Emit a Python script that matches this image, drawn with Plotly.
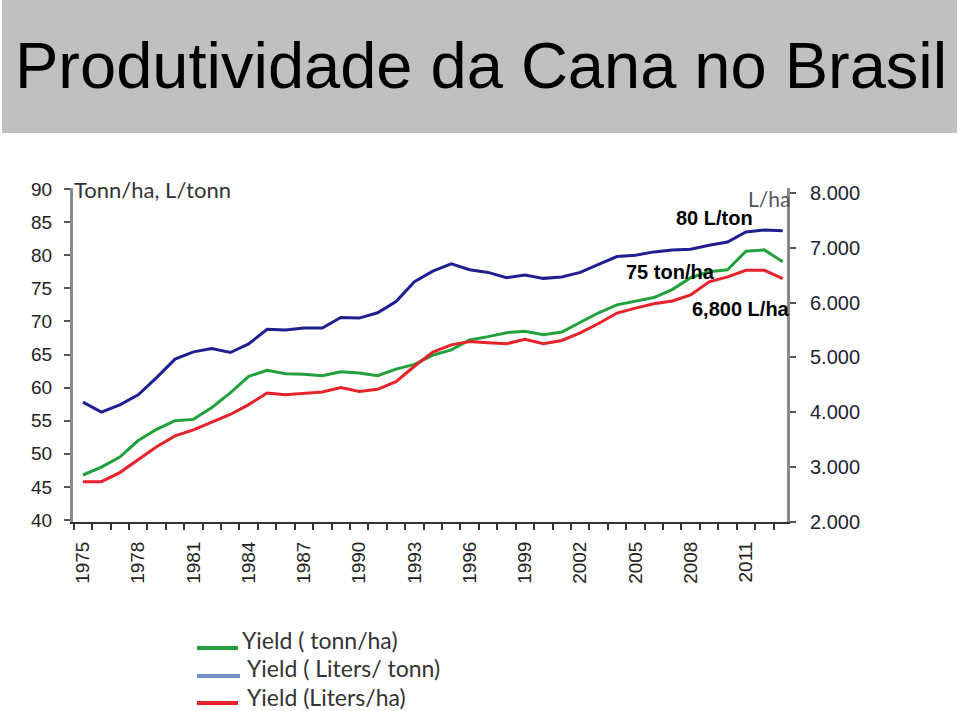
import plotly.graph_objects as go

# ---------------- data ----------------
years = list(range(1975, 2014))

yield_tonn_ha = [46.8, 48.0, 49.5, 52.0, 53.7, 55.0, 55.2, 57.0, 59.2, 61.7,
                 62.6, 62.1, 62.0, 61.8, 62.4, 62.2, 61.8, 62.8, 63.5, 64.9,
                 65.7, 67.2, 67.7, 68.3, 68.5, 68.0, 68.4, 69.8, 71.3, 72.5,
                 73.1, 73.6, 74.8, 76.6, 77.5, 77.8, 80.6, 80.8, 79.0]

yield_liters_tonn = [57.8, 56.3, 57.4, 58.9, 61.5, 64.3, 65.4, 65.9, 65.3, 66.6,
                     68.8, 68.7, 69.0, 69.0, 70.6, 70.5, 71.3, 73.0, 76.0, 77.6,
                     78.7, 77.8, 77.4, 76.6, 77.0, 76.5, 76.7, 77.4, 78.6, 79.8,
                     80.0, 80.5, 80.8, 80.9, 81.5, 82.0, 83.5, 83.8, 83.7]

yield_liters_ha = [2735, 2735, 2900, 3130, 3370, 3570, 3680, 3820, 3960, 4140,
                   4350, 4320, 4350, 4370, 4450, 4380, 4420, 4560, 4840, 5100,
                   5230, 5290, 5270, 5250, 5330, 5250, 5310, 5450, 5620, 5810,
                   5900, 5980, 6030, 6140, 6380, 6470, 6590, 6590, 6440]

x_tick_years = years[::3]
left_ticks = [40, 45, 50, 55, 60, 65, 70, 75, 80, 85, 90]
right_ticks = [2000, 3000, 4000, 5000, 6000, 7000, 8000]
right_ticktext = ["2.000", "3.000", "4.000", "5.000", "6.000", "7.000", "8.000"]

legend_labels = ["Yield ( tonn/ha)", "Yield ( Liters/ tonn)", "Yield (Liters/ha)"]
notes = ["80 L/ton", "75 ton/ha", "6,800 L/ha"]
title_text = "Produtividade da Cana no Brasil"

# ---------------- styling ----------------
GREEN = "#22a03c"
NAVY = "#1f1f92"
RED = "#e6222b"
LEG_BLUE = "#7092c8"
AXIS_GRAY = "#8a8a8a"
ARIAL = "Liberation Sans, Arial, sans-serif"
CALIBRI = "Lato, Carlito, Calibri, sans-serif"

W, H = 960, 711
L, R, T, B = 73, 787, 188, 522


def px(x):
    return (x - L) / (R - L)


def py(y):
    return (B - y) / (B - T)


fig = go.Figure()
fig.add_trace(go.Scatter(x=years, y=yield_liters_tonn, mode="lines",
                         line=dict(color=NAVY, width=3), yaxis="y",
                         showlegend=False, name=legend_labels[1]))
fig.add_trace(go.Scatter(x=years, y=yield_tonn_ha, mode="lines",
                         line=dict(color=GREEN, width=3), yaxis="y",
                         showlegend=False, name=legend_labels[0]))
fig.add_trace(go.Scatter(x=years, y=yield_liters_ha, mode="lines",
                         line=dict(color=RED, width=3), yaxis="y2",
                         showlegend=False, name=legend_labels[2]))

shapes = [
    dict(type="rect", xref="paper", yref="paper", x0=px(2), x1=px(957),
         y0=py(133), y1=py(0), fillcolor="#c0c0c0", line=dict(width=0),
         layer="below"),
]
leg_colors = [GREEN, LEG_BLUE, RED]
leg_line_y = [648, 676, 703]
leg_line_x1 = [238, 240, 238]
for c, yy, x1 in zip(leg_colors, leg_line_y, leg_line_x1):
    shapes.append(dict(type="line", xref="paper", yref="paper",
                       x0=px(197), x1=px(x1), y0=py(yy), y1=py(yy),
                       line=dict(color=c, width=4)))

annotations = [
    dict(text=title_text, x=px(481), y=py(66), xref="paper", yref="paper",
         xanchor="center", yanchor="middle", showarrow=False,
         font=dict(family=ARIAL, size=65, color="#000000")),
    dict(text="Tonn/ha, L/tonn", x=px(72), y=py(189), xref="paper", yref="paper",
         xanchor="left", yanchor="middle", showarrow=False,
         font=dict(family=CALIBRI, size=22, color="#333333")),
    dict(text="L/ha", x=px(769), y=py(198), xref="paper", yref="paper",
         xanchor="center", yanchor="middle", showarrow=False,
         font=dict(family=CALIBRI, size=21, color="#555566")),
    dict(text="<b>%s</b>" % notes[0], x=px(714), y=py(218), xref="paper", yref="paper",
         xanchor="center", yanchor="middle", showarrow=False,
         font=dict(family=ARIAL, size=20, color="#000000")),
    dict(text="<b>%s</b>" % notes[1], x=px(670), y=py(272), xref="paper", yref="paper",
         xanchor="center", yanchor="middle", showarrow=False,
         font=dict(family=ARIAL, size=20, color="#000000")),
    dict(text="<b>%s</b>" % notes[2], x=px(741), y=py(309), xref="paper", yref="paper",
         xanchor="center", yanchor="middle", showarrow=False,
         font=dict(family=ARIAL, size=20, color="#000000")),
]
leg_text_x = [240, 245, 245]
leg_text_y = [640, 668, 697]
for lbl, xx, yy in zip(legend_labels, leg_text_x, leg_text_y):
    annotations.append(dict(text=lbl, x=px(xx), y=py(yy), xref="paper", yref="paper",
                            xanchor="left", yanchor="middle", showarrow=False,
                            font=dict(family=CALIBRI, size=23, color="#333333")))

fig.update_layout(
    width=W, height=H,
    margin=dict(l=L, r=W - R, t=T, b=H - B, pad=0),
    paper_bgcolor="white", plot_bgcolor="white",
    showlegend=False,
    xaxis=dict(range=[1974.46, 2013.23], tickmode="array", tickvals=x_tick_years,
               ticktext=[str(v) for v in x_tick_years], tickangle=-90,
               ticks="outside", ticklen=6, tickcolor="rgba(0,0,0,0)",
               ticklabelstandoff=4,
               minor=dict(tick0=1974.5, dtick=1, ticks="outside", ticklen=6,
                          tickcolor="#333333", tickwidth=2),
               showline=True, linecolor="#333333", linewidth=2,
               showgrid=False, zeroline=False,
               tickfont=dict(family=ARIAL, size=19, color="#222222")),
    yaxis=dict(range=[39.7, 90.15], tickmode="array", tickvals=left_ticks,
               ticks="outside", ticklen=6, tickcolor="#555555", tickwidth=2,
               ticklabelstandoff=8,
               showline=True, linecolor=AXIS_GRAY, linewidth=3,
               showgrid=False, zeroline=False,
               tickfont=dict(family=ARIAL, size=19, color="#222222")),
    yaxis2=dict(range=[1999, 8091], overlaying="y", side="right", anchor="x",
                tickmode="array", tickvals=right_ticks, ticktext=right_ticktext,
                ticks="outside", ticklen=6, tickcolor="#555555", tickwidth=2,
                ticklabelstandoff=10,
                showline=True, linecolor=AXIS_GRAY, linewidth=3,
                showgrid=False, zeroline=False,
                tickfont=dict(family=ARIAL, size=20, color="#222233")),
    shapes=shapes,
    annotations=annotations,
)

fig.write_html("out.html",
               config={"displayModeBar": False},
               post_script="document.body.style.margin='0px';"
                           "document.body.style.overflow='hidden';")
